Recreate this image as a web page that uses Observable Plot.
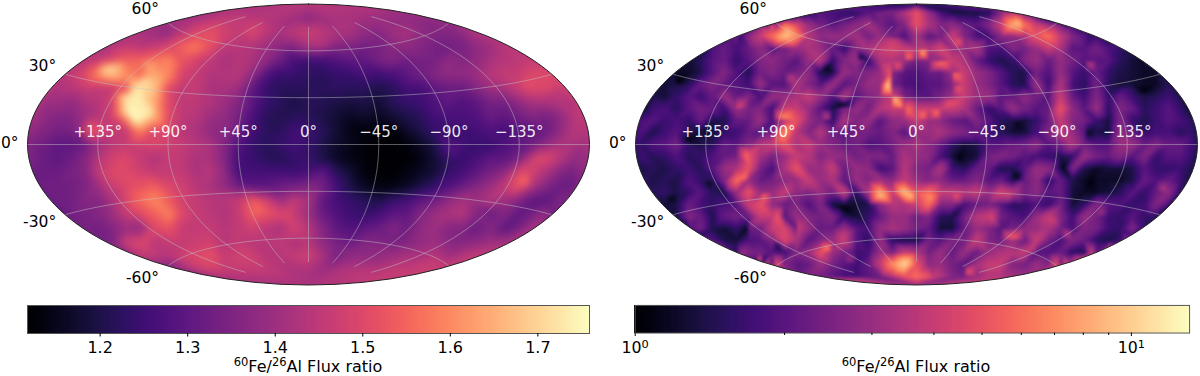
<!DOCTYPE html>
<html><head><meta charset="utf-8">
<script src="https://cdn.jsdelivr.net/npm/d3@7"></script>
<script src="https://cdn.jsdelivr.net/npm/@observablehq/plot@0.6"></script>
<style>
html,body{margin:0;padding:0;background:#fff}
#page{position:relative;width:1200px;height:376px;overflow:hidden;font-family:"DejaVu Sans",sans-serif}
#page>div{position:absolute}
svg{display:block}
.cap{font-size:16px;line-height:18px;text-align:center;color:#000;white-space:nowrap}
.cap sup{font-size:11.5px;line-height:0;vertical-align:baseline;position:relative;top:-6px}
</style></head><body><div id="page"></div>
<script>
const lonTicks=[135,90,45,0,-45,-90,-135];
const lonLabels=["+135°","+90°","+45°","0°","−45°","−90°","−135°"];
const latTicks=[60,30,0,-30,-60];
const latLabels=["60°","30°","0°","-30°","-60°"];
const leftDomain=[1.117,1.759];
const rightDomain=[1,13.1];
const leftBarTicks=[1.2,1.3,1.4,1.5,1.6,1.7];
const rightBarMajor=[1,10];
const rightBarMinor=[2,3,4,5,6,7,8,9];

// Flux ratio, one row per line of a regular sampling of the map plane, north to south
const leftRows=[
[1.42,1.44,1.46,1.46,1.45,1.44,1.42,1.4,1.37,1.4,1.42,1.42,1.4,1.4,1.38,1.38,1.37],
[1.42,1.4,1.38,1.45,1.5,1.52,1.48,1.46,1.5,1.45,1.42,1.45,1.47,1.45,1.42,1.42,1.38,1.36,1.4,1.42,1.38,1.36,1.36,1.38,1.43],
[1.45,1.46,1.44,1.46,1.5,1.55,1.58,1.52,1.45,1.44,1.43,1.4,1.37,1.36,1.42,1.42,1.36,1.35,1.33,1.34,1.37,1.38,1.36,1.34,1.33,1.34,1.38,1.4,1.45],
[1.44,1.46,1.5,1.54,1.55,1.58,1.6,1.52,1.48,1.45,1.42,1.44,1.42,1.38,1.32,1.26,1.25,1.26,1.28,1.3,1.3,1.34,1.36,1.33,1.34,1.34,1.38,1.36,1.38,1.42,1.44,1.45,1.46],
[1.46,1.5,1.6,1.68,1.6,1.55,1.64,1.6,1.48,1.46,1.43,1.43,1.44,1.38,1.28,1.24,1.24,1.23,1.22,1.24,1.24,1.27,1.25,1.27,1.3,1.33,1.36,1.38,1.38,1.4,1.44,1.46,1.46,1.5,1.5],
[1.42,1.44,1.46,1.45,1.45,1.5,1.72,1.68,1.5,1.45,1.46,1.42,1.42,1.4,1.3,1.24,1.22,1.22,1.22,1.22,1.23,1.22,1.22,1.2,1.22,1.26,1.26,1.3,1.32,1.32,1.36,1.4,1.42,1.47,1.5,1.5,1.46],
[1.4,1.4,1.38,1.42,1.44,1.48,1.72,1.74,1.64,1.5,1.45,1.45,1.43,1.4,1.36,1.3,1.24,1.22,1.2,1.22,1.21,1.2,1.19,1.2,1.18,1.22,1.24,1.25,1.28,1.3,1.28,1.3,1.34,1.34,1.38,1.42,1.42,1.44,1.42],
[1.38,1.36,1.36,1.4,1.44,1.48,1.62,1.76,1.66,1.5,1.45,1.44,1.4,1.38,1.34,1.27,1.22,1.21,1.22,1.22,1.2,1.18,1.16,1.17,1.16,1.18,1.2,1.22,1.26,1.27,1.27,1.28,1.32,1.3,1.33,1.36,1.34,1.38,1.44],
[1.36,1.34,1.34,1.4,1.52,1.46,1.46,1.6,1.5,1.5,1.44,1.42,1.38,1.38,1.32,1.26,1.22,1.22,1.26,1.25,1.22,1.18,1.14,1.13,1.13,1.13,1.17,1.2,1.24,1.24,1.25,1.26,1.28,1.26,1.3,1.3,1.32,1.38,1.44],
[1.35,1.33,1.3,1.3,1.32,1.4,1.45,1.46,1.48,1.5,1.48,1.46,1.44,1.42,1.36,1.28,1.24,1.22,1.24,1.26,1.24,1.2,1.17,1.15,1.13,1.12,1.12,1.13,1.16,1.2,1.28,1.26,1.24,1.24,1.27,1.3,1.33,1.38,1.42,1.42,1.4],
[1.32,1.3,1.32,1.36,1.44,1.48,1.5,1.46,1.43,1.46,1.45,1.42,1.42,1.36,1.26,1.24,1.22,1.21,1.24,1.24,1.2,1.16,1.14,1.13,1.12,1.12,1.12,1.14,1.18,1.22,1.24,1.27,1.3,1.3,1.34,1.46,1.5,1.44,1.38],
[1.32,1.32,1.34,1.36,1.46,1.5,1.5,1.48,1.46,1.46,1.46,1.42,1.44,1.38,1.26,1.26,1.26,1.26,1.25,1.27,1.3,1.22,1.18,1.13,1.12,1.12,1.14,1.16,1.18,1.24,1.26,1.3,1.34,1.38,1.5,1.48,1.42,1.36,1.34],
[1.33,1.33,1.33,1.35,1.4,1.47,1.5,1.52,1.54,1.5,1.48,1.44,1.42,1.38,1.32,1.3,1.3,1.32,1.34,1.36,1.34,1.26,1.2,1.16,1.14,1.14,1.16,1.2,1.24,1.28,1.32,1.36,1.4,1.46,1.52,1.42,1.36,1.32,1.32],
[1.33,1.33,1.36,1.36,1.42,1.5,1.56,1.6,1.54,1.48,1.46,1.44,1.44,1.46,1.54,1.48,1.4,1.46,1.42,1.3,1.26,1.24,1.22,1.2,1.24,1.26,1.3,1.33,1.38,1.42,1.4,1.44,1.4,1.36,1.3,1.3,1.36],
[1.34,1.34,1.36,1.4,1.46,1.5,1.54,1.6,1.5,1.46,1.45,1.43,1.46,1.54,1.52,1.5,1.46,1.4,1.32,1.28,1.25,1.24,1.26,1.3,1.3,1.36,1.4,1.42,1.44,1.36,1.32,1.36,1.3,1.34,1.4],
[1.34,1.33,1.36,1.4,1.38,1.5,1.52,1.46,1.46,1.46,1.44,1.46,1.48,1.44,1.42,1.48,1.44,1.36,1.3,1.28,1.3,1.32,1.36,1.32,1.38,1.4,1.36,1.36,1.32,1.36,1.3,1.34,1.42],
[1.36,1.48,1.5,1.44,1.46,1.46,1.47,1.48,1.44,1.46,1.44,1.44,1.45,1.42,1.44,1.38,1.34,1.32,1.36,1.36,1.34,1.36,1.38,1.4,1.37,1.36,1.38,1.4,1.42],
[1.44,1.46,1.44,1.48,1.5,1.52,1.46,1.48,1.48,1.44,1.44,1.46,1.48,1.42,1.34,1.38,1.38,1.38,1.4,1.42,1.42,1.44,1.4,1.44,1.46],
[1.46,1.48,1.46,1.46,1.46,1.46,1.44,1.42,1.42,1.4,1.42,1.44,1.44,1.44,1.46,1.46,1.48]
];
// Flux ratio, same layout on a finer sampling
const rightRows=[
[2.2,2.6,2.4,2.2,2,1.7,2,1.8,1.6,1.5,2,2.5,2.5,3.5,5,3,1.8,1.4,1.3,1.3,1.4,2.5,3.5,3,2.5,2,1.6,1.6,1.7],
[1.7,2,2.6,3.4,4.5,6,4.5,3,2.4,2,2.4,2.8,3.2,2.4,2,2.6,5,3.4,2.6,2.8,2.2,2,2.6,4,8,6,4,3,2.4,2,1.8,1.7,1.5],
[1.9,2,2.2,2.8,4,6,9,7,3.6,2.8,3,3,3.2,2.4,3,2.4,1.8,3.2,2,2.4,4,2.6,1.8,1.7,2.6,2.8,3.4,5,6,4,2.6,2,1.7,1.6,1.5],
[1.4,1.5,1.9,2.2,1.8,2.2,2.8,2,2.4,3,3.4,3,2.2,1.6,2.8,3.4,4,4.5,4,3.5,3.5,4.5,3,3,3.4,1.9,1.8,2.6,2.4,3,4,3.4,2,2,2.4,1.9,1.6,1.4,1.4],
[1.3,1.3,1.5,2,2.2,1.6,2,2.6,2.8,2.4,2,3,3.6,1.6,2.6,3,1.6,3.4,3.5,3,2.4,2.6,3,4,3.4,2.2,1.6,1.4,1.6,2.6,3,2.2,3,2.4,2,2,2,1.5,1.3,1.2,1.3],
[1.3,1.2,1.2,1.4,2,2.6,1.9,1.4,2.4,2.6,2.2,2.4,2.8,1.4,1.3,3,2.6,2.6,3,2.6,2,1.9,2.2,2.2,3,4,3,2.6,2,1.5,1.4,2.4,1.9,3,2,1.6,2.2,1.6,1.4,1.3,1.2,1.2,1.4],
[1.3,1.4,1.5,2.2,2.6,2.2,2,1.7,3,2,1.9,3.4,2.6,2,3,2,2.4,3,3,2.4,1.9,1.8,2,2,2.6,4,3,2.6,2,1.5,1.4,3,1.7,3.4,1.8,1.5,2.4,1.5,1.3,1.3,1.2,1.2,1.5],
[1.4,1.3,1.6,2,1.7,2.2,3,2.2,2.6,1.8,3,3,3.4,4,3,2,3.4,2,2.6,3,4,2.4,2,2,2.4,3,4,3,3,2,2.2,2.8,2.4,2,4,2.2,1.7,2.6,1.6,2.2,1.7,1.4,1.5,1.7,1.4],
[1.7,1.8,1.5,2,2.4,2.2,1.7,3,2.4,2.6,1.7,4,4,3,2,1.3,2.6,3,2.4,3.6,4,4,4,4,4,4,3.4,2.2,1.6,2,3,2.4,2,2.2,5,2.8,2,3,1.5,2.6,2.2,1.5,1.7,2,1.6],
[1.8,2,1.7,1.8,1.6,2.2,1.4,1.4,2.2,2.2,3,1.8,3.6,5,3,2.4,1.5,3.4,2.6,3,2,2.8,3,4,3,2.8,2.2,2,2.6,2,1.5,1.4,1.3,1.6,2.2,4,2.6,2.4,1.7,1.3,2.6,1.6,1.4,1.7,2,1.8,1.5],
[1.9,1.4,1.7,2,1.5,1.3,1.3,1.6,1.7,2.2,2,2.6,7,3.6,2.6,3.6,2.4,2,2.4,2.4,2.2,2.6,2,3,3,3.4,2.8,2.6,2.2,1.8,1.5,1.3,1.3,1.8,2.6,3.6,3,2,1.4,1.3,3,2.2,1.6,1.8,1.8,1.5,1.6],
[1.6,1.9,2,2.4,1.6,1.4,1.5,2.2,2,2.6,3.6,4,5,3.4,4,3,2.6,2.2,2.4,1.9,2,2.4,3,3.4,2.8,2.2,1.6,1.3,1.4,2,2,2.2,2.4,2.8,2,2.4,3.4,2.4,2,2,3,3,2.2,2.6,2.2,2.2,1.7],
[1.7,1.5,1.6,1.9,1.5,1.6,1.9,2.2,2.4,5,3.2,2.4,3,4,3.6,2.6,3,2.8,2.4,2.6,2.6,2.2,3.4,3,2.8,1.8,1.3,1.2,1.3,2.4,2.6,2.4,2,1.8,1.6,1.4,1.6,3,2.4,2.2,2.6,2,2.6,1.6,2,2,1.6],
[1.4,1.5,1.4,1.6,1.7,1.5,2,3,3.4,5,2.4,1.8,3.4,5,3,3,4,2.2,3,2.8,1.7,2,3.6,2.6,2.4,3.4,1.7,1.5,2.2,2.2,1.4,1.4,2,3,2.8,1.3,2.6,1.4,1.2,1.3,1.3,1.4,2,1.6,1.6,1.7,1.4],
[1.4,1.5,1.4,1.9,1.6,1.5,2.6,6,3,2.2,2.4,2.8,3,4,3,3.4,2,3,2.6,3.2,2.8,4,3,2.6,2.8,2.2,2.2,2.6,2,2.2,1.4,2.2,2.8,1.5,2.2,1.4,1.2,1.2,1.2,1.2,1.4,2.2,1.9,2.2,1.7],
[1.5,1.6,1.4,1.6,2,1.5,1.4,3,5,3,3,4,2.8,2.6,3,2.4,4,1.6,3.4,8,4,9,5,6,4,4,3.6,4,3,4.4,3.6,2.4,2.8,2,2.2,1.3,1.2,1.2,1.3,1.5,2,1.6,2.2,2.8,1.5],
[1.3,1.4,2.2,1.8,1.6,1.8,2,4,5,2.8,2.2,2.6,1.9,2.6,1.3,1.3,1.3,1.4,2.8,3.6,3.4,4,6,2.6,2.6,1.8,2.2,2.4,2,1.5,1.6,1.9,1.6,2.4,1.3,1.6,2.6,2,1.9,1.6,1.7,2.6,1.9],
[1.3,1.4,2.6,2.2,1.4,2.2,2.4,2.2,4,4,2,3,2.6,2.4,2.6,1.5,1.3,1.6,2.2,3,3,2.2,2.6,1.5,1.4,2.4,3.6,4,2.4,2,1.8,3,4,2.6,1.7,3,2.4,1.7,1.6,2,1.6,1.6,1.4],
[1.4,2,2.4,1.4,1.3,1.6,2.2,2.4,4,4.5,2.2,3,2.2,2.2,3,2,1.8,3,3.4,3,2.4,2.2,1.3,1.3,2.2,3,2.6,2,2.4,2.8,3,3.4,2.4,1.8,2.6,2.4,1.7,1.6,2.6,1.7,1.5],
[1.5,2,1.9,1.4,1.3,1.9,2,2.6,4.5,3.4,2,2.6,3,4,2,1.5,3,1.4,1.3,1.3,2.4,2,2.6,2.4,4,2.6,2.2,3,2.2,4,2.4,1.8,2.6,2.2,1.5,1.4,1.6,2.4,1.9],
[2.2,1.8,1.5,2.6,2.4,2,1.7,2.6,3,5,3,2.4,1.7,1.8,3,2.4,4,3.4,2.4,3,2.2,3,2.2,3,3.4,3.6,4,2,1.9,2.2,1.5,1.4,2,2.2,3.4],
[3,2.2,1.9,1.5,1.7,2.6,2,2.2,3,2.4,2,1.7,2.2,4,7,10,5,2.8,3,2.4,2,3.2,4,4,2.6,2.4,3,2.6,2,3,4,3.4,4],
[4,3.4,3,2.6,2.2,2.6,2.4,2,1.8,1.7,2,2.4,3.6,5,6,5,3.6,2.6,2.4,3,3.6,3.6,3.2,3,3,3,3.4,4,4.5]
];
// Rim of each map, read at every 15 degrees of latitude from north to south
const rimLats=[89.8,75,60,45,30,15,0,-15,-30,-45,-60,-75,-89.8];
const leftRimWest=[1.44,1.42,1.4,1.42,1.45,1.42,1.36,1.32,1.32,1.34,1.36,1.42,1.42];
const leftRimEast=[1.44,1.42,1.38,1.44,1.5,1.46,1.42,1.36,1.34,1.42,1.46,1.46,1.42];
const rightRimWest=[1.5,2,2.2,2,1.4,1.3,1.6,1.5,1.3,2.2,5,4,3];
const rightRimEast=[1.5,2,2.4,1.8,1.4,1.3,1.5,1.4,1.5,2,5,4,3];
// Features of the left map between the sampled rows: offset from the map centre in sampling cells
const leftSpotCols=[-11.29,-11.79,-12.36,-13.07,-12.86,-12,-11.29,-12.36,-14.29,-14.86,-13.57,15.36,16.36,-10.07,-3.43,-1.5,-15.93,15.64,10.14];
const leftSpotRows=[-5.64,-4.57,-3.86,-3.14,-2.29,-2.43,-2.21,-1.71,-5.43,-5.14,-5.71,2.79,1,4.93,4.71,5.07,-1,-4.21,.79];
const leftSpotRatio=[1.66,1.72,1.74,1.76,1.76,1.72,1.74,1.75,1.72,1.68,1.66,1.58,1.5,1.58,1.56,1.5,1.53,1.52,1.28];
// Ridges and voids of the right map, same units
const ringCols=[-2.33,-1.92,-1.33,-.75,.58,1.75,2.83,3.42,3.08,2,.58,-.75,-1.58,-2.17];
const ringRows=[-4.92,-3.92,-3.25,-2.92,-2.42,-2.67,-3.42,-4.75,-5.92,-6.83,-7.67,-7.17,-6.58,-5.92];
const ringRatio=[10,9,7,6,6,6,5,5,6,6,8,6,5,5];
const ridgeCols=[-14.25,-12.75,-11.58,-9.92,-7.42,-5.5,-14.08,-14,1.42,4.25,7,9.75,12.58,15.33,-.92,-.5,1.17,3.25,7.83,-3,6.17,8,11.42,-13,-6.08,20.58,8.42,10.92,14.5,3.5,-10.75,-11.08,-14.92,-10.5,-7.42,-1.92];
const ridgeRows=[2.75,4.25,5.92,7,8.67,9.5,.92,1.75,11.08,10.67,9.83,8.67,7.33,5.75,9.83,4.25,4.42,4.25,4.25,4.25,6.08,7.75,6.33,9.67,7.58,3.67,-10.08,-9.08,-6.75,-8.5,-9.25,-2.25,-3.08,-5.58,-2.25,-8.67];
const ridgeRatio=[6,5.5,5,4,6.5,3,6,5,4,5,4,4,3.5,3,10,9,7,5,4,9,4.5,5.5,4,6,4,3.4,9,6,3.6,5,9,7,4.5,3.6,3.6,4];
const voidCols=[-6.08,-7.58,-4.67,-19.08,-19.92,8.42,14.25,18.92,14.5,8.42,3.67,12.25,3.08,-6.08,-17.17,-20.25,-14.08,-11.58];
const voidRows=[-3.25,-6.33,-7.25,-.33,-5.08,-1.75,-.92,-4.5,3.17,2.75,1.08,2,5.92,5.33,3.17,4.5,7,8.42];
const voidRatio=[1.05,1.1,1.1,1.1,1.05,1.15,1.15,1.05,1.05,1.05,1.05,1.1,1.2,1.05,1.1,1.1,1.15,1.3];

const S=89.44, CX=308, CY=144, W=592, H=295;
const leftStep=14, rightStep=12;

function aitoffRaw(l,p){
  const a=Math.acos(Math.cos(p)*Math.cos(l/2));
  const s=a<1e-9?1:Math.sin(a)/a;
  return [2*Math.cos(p)*Math.sin(l/2)/s, Math.sin(p)/s];
}
function aitoffInvert(u,v){
  let l=u,p=v;const h=1e-5;
  for(let k=0;k<40;k++){
    const [x,y]=aitoffRaw(l,p);
    const [xa,ya]=aitoffRaw(l+h,p), [xb,yb]=aitoffRaw(l,p+h);
    const a=(xa-x)/h,b=(xb-x)/h,c=(ya-y)/h,d=(yb-y)/h,det=a*d-b*c;
    if(!det) break;
    const ex=u-x,ey=v-y;
    l+=Math.max(-.4,Math.min(.4,(d*ex-b*ey)/det));
    p+=Math.max(-.4,Math.min(.4,(a*ey-c*ex)/det));
    l=Math.max(-Math.PI,Math.min(Math.PI,l));
    p=Math.max(-1.565,Math.min(1.565,p));
  }
  return [l,p];
}
function cell(col,row,step,ratio){
  const [l,p]=aitoffInvert(col*step/S,-row*step/S);
  return {lon:-l*180/Math.PI,lat:p*180/Math.PI,ratio};
}
function samples(rows,step,west,east,extras){
  const mid=(rows.length-1)/2, out=[];
  rows.forEach((row,j)=>{
    const c=(row.length-1)/2;
    row.forEach((ratio,i)=>out.push(cell(i-c,j-mid,step,ratio)));
  });
  rimLats.forEach((lat,i)=>{
    out.push({lon:179.9,lat,ratio:west[i]});
    out.push({lon:-179.9,lat,ratio:east[i]});
  });
  extras.forEach(([cols,rws,vals])=>cols.forEach((c,i)=>out.push(cell(c,rws[i],step,vals[i]))));
  return out;
}
const meridians=lonTicks.map(lon=>d3.range(-75,75.5,2.5).map(lat=>[lon,lat]));
const parallels=latTicks.map(lat=>d3.range(-180,180.5,3).map(lon=>[lon,lat]));
const graticule={type:"MultiLineString",coordinates:[...meridians,...parallels]};
const nudges=[-14,-8,-1,7,12];

function map(data,domain,type,blur){
  const projection=d3.geoProjection(aitoffRaw).reflectX(true).scale(S).translate([CX,CY]).precision(.2);
  return Plot.plot({
    width:W,height:H,margin:0,projection,
    style:{fontFamily:"DejaVu Sans",background:"transparent",overflow:"visible"},
    color:{type,domain,scheme:"magma",clamp:true},
    marks:[
      Plot.raster(data,{x:"lon",y:"lat",fill:"ratio",interpolate:"barycentric",pixelSize:1,blur,clip:"sphere"}),
      Plot.geo(graticule,{stroke:"#c4c4c4",strokeOpacity:.6,strokeWidth:.8,fill:"none"}),
      Plot.sphere({stroke:"#222",strokeWidth:1}),
      Plot.text(lonTicks.map((lon,i)=>({lon,label:lonLabels[i]})),{x:"lon",y:()=>0,text:"label",dy:-12,fontSize:15,fill:"#fff",fillOpacity:.92,textAnchor:"middle"}),
      ...latTicks.map((lat,i)=>Plot.text([{lon:179.99,lat,label:latLabels[i]}],{x:"lon",y:"lat",text:"label",dx:-9,dy:nudges[i],fontSize:15.5,fill:"#000",textAnchor:"end"}))
    ]
  });
}
function ramp(domain,log){
  const n=281;
  const t=log?d3.scaleLog().domain(domain).range([0,n]):d3.scaleLinear().domain(domain).range([0,n]);
  return d3.range(n).map(i=>({a:t.invert(i),b:t.invert(i+1),v:t.invert(i+.5)}));
}
function bar(domain,type,axes){
  return Plot.plot({
    width:600,height:60,marginLeft:27,marginRight:11,marginTop:5,marginBottom:27,
    style:{fontFamily:"DejaVu Sans",fontSize:"16px",color:"#000",background:"transparent",overflow:"visible"},
    x:{type,domain,label:null},
    y:{domain:[0,1],axis:null},
    color:{type,domain,scheme:"magma",clamp:true},
    marks:[
      Plot.rect(ramp(domain,type==="log"),{x1:"a",x2:"b",y1:()=>0,y2:()=>1,fill:"v",shapeRendering:"crispEdges",inset:-.3}),
      Plot.frame({stroke:"#555",strokeWidth:1}),
      ...axes
    ]
  });
}
function put(node,left,top){const d=document.createElement("div");d.style.left=left+"px";d.style.top=top+"px";d.append(node);document.getElementById("page").append(d);}
function caption(center){
  const d=document.createElement("div");d.className="cap";d.style.left=(center-150)+"px";d.style.width="300px";d.style.top="358px";
  d.innerHTML="<sup>60</sup>Fe/<sup>26</sup>Al Flux ratio";document.getElementById("page").append(d);
}
put(map(samples(leftRows,leftStep,leftRimWest,leftRimEast,[[leftSpotCols,leftSpotRows,leftSpotRatio]]),leftDomain,"linear",3),0,0);
put(map(samples(rightRows,rightStep,rightRimWest,rightRimEast,[[ringCols,ringRows,ringRatio],[ridgeCols,ridgeRows,ridgeRatio],[voidCols,voidRows,voidRatio]]),rightDomain,"log",1),608,0);
put(bar(leftDomain,"linear",[Plot.axisX({ticks:leftBarTicks,tickSize:3.5,tickPadding:5,tickFormat:d=>d.toFixed(1),fontSize:16,label:null,anchor:"bottom"})]),0,300);
const logBar=bar(rightDomain,"log",[
  Plot.axisX({ticks:rightBarMinor,tickSize:2.5,tickFormat:()=>"",label:null,anchor:"bottom"}),
  Plot.axisX({ticks:rightBarMajor,tickSize:3.5,tickPadding:5,tickFormat:d=>d===1?"10^0":"10^1",fontSize:16,label:null,anchor:"bottom"})
]);
d3.select(logBar).selectAll("text").each(function(){
  const t=this.textContent;
  if(!t.includes("^")) return;
  const [base,exp]=t.split("^");
  const target=this.querySelector("tspan")||this;
  target.textContent=base;
  d3.select(target.parentNode===this?this:target).append("tspan").attr("dy","-0.4em").attr("font-size","11.5px").text(exp);
});
put(logBar,608,300);
caption(308);caption(916);
</script></body></html>
